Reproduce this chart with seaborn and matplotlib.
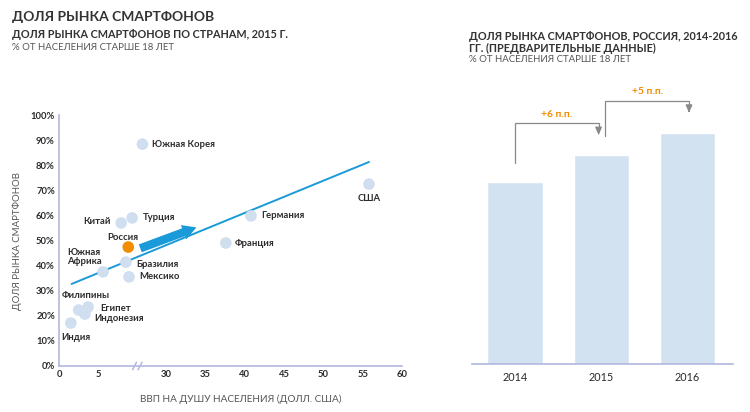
import matplotlib
matplotlib.use("Agg")
import matplotlib.pyplot as plt
from matplotlib.ticker import FuncFormatter
import pandas as pd
import seaborn as sns

# ── Data ─────────────────────────────────────────────────────────────────────
countries = ["Южная Корея", "США", "Германия", "Турция", "Китай", "Россия",
             "Франция", "Бразилия", "Южная\nАфрика", "Мексико", "Филипины",
             "Египет", "Индонезия", "Индия"]
gdp_per_capita = [27.0, 55.8, 40.8, 9.3, 7.9, 8.8, 37.6, 8.5, 5.6, 8.9,
                  2.5, 3.7, 3.3, 1.5]
smartphone_share = [0.884, 0.725, 0.598, 0.59, 0.57, 0.474, 0.49, 0.414,
                    0.375, 0.355, 0.223, 0.235, 0.207, 0.171]
trend_gdp = [1.6, 55.8]
trend_share = [0.327, 0.813]
x_ticks = [0, 5, 30, 35, 40, 45, 50, 55, 60]

years = ["2014", "2015", "2016"]
russia_share = [41, 47, 52]
growth_labels = ["+6 п.п.", "+5 п.п."]

# ── Style ────────────────────────────────────────────────────────────────────
DOT = "#cfdff0"
ORANGE = "#f28c00"
BLUE = "#1a9ad8"
AXIS = "#b3b7de"
DARK = "#2b2b2b"
GREY = "#555555"

sns.set_style("white")
plt.rcParams["font.family"] = ["Lato", "DejaVu Sans"]

# broken x axis: 0..10 kept, values above 25 shifted left
BREAK_SHIFT = 16.4


def to_axis(x):
    return x if x <= 10 else x - BREAK_SHIFT


fig = plt.figure(figsize=(7.5, 4.12), dpi=100)

# ── Left: scatter ────────────────────────────────────────────────────────────
ax = fig.add_axes([0.0787, 0.1117, 0.4573, 0.609])
df = pd.DataFrame({
    "country": countries,
    "gdp": [to_axis(v) for v in gdp_per_capita],
    "share": smartphone_share,
})
df["group"] = ["ru" if c == "Россия" else "other" for c in df["country"]]
sns.scatterplot(data=df, x="gdp", y="share", hue="group",
                palette={"ru": ORANGE, "other": DOT}, s=70, linewidth=0,
                legend=False, ax=ax, zorder=3)
ax.plot([to_axis(v) for v in trend_gdp], trend_share, color=BLUE, lw=1.4,
        zorder=2)
ax.annotate("", xy=(17.8, 0.556), xytext=(10.0, 0.465),
            arrowprops=dict(arrowstyle="simple,head_length=0.9,head_width=1.0,tail_width=0.55",
                            color=BLUE, lw=0, mutation_scale=11), zorder=4)

offsets = {
    "Южная Корея": (10, 0, "left"), "США": (0, -14, "center"),
    "Германия": (10, 0, "left"), "Турция": (11, 0, "left"),
    "Китай": (-10, 1, "right"), "Россия": (-5, 10, "center"),
    "Франция": (9, 0, "left"), "Бразилия": (10, -2, "left"),
    "Южная\nАфрика": (-19, 15, "center"), "Мексико": (10, 0, "left"),
    "Филипины": (7, 15, "center"), "Египет": (12, -1, "left"),
    "Индонезия": (9, -4, "left"), "Индия": (5, -14, "center"),
}
for _, row in df.iterrows():
    dx, dy, ha = offsets[row["country"]]
    ax.annotate(row["country"], (row["gdp"], row["share"]), xytext=(dx, dy),
                textcoords="offset pixels", ha=ha, va="center", fontsize=6.8,
                fontweight="bold", color=DARK, linespacing=0.95)

ax.set_xlim(0, to_axis(60))
ax.set_ylim(0, 1.0)
ax.set_xticks([to_axis(v) for v in x_ticks])
ax.set_xticklabels([str(v) for v in x_ticks])
ax.set_yticks([i / 10 for i in range(11)])
ax.yaxis.set_major_formatter(FuncFormatter(lambda v, _: f"{v:.0%}"))
ax.tick_params(length=0, pad=3, labelsize=6.8, colors=DARK)
for lbl in ax.get_xticklabels() + ax.get_yticklabels():
    lbl.set_fontweight("bold")
sns.despine(ax=ax)
for side in ("left", "bottom"):
    ax.spines[side].set_color(AXIS)
    ax.spines[side].set_linewidth(1.2)
ax.set_xlabel("ВВП НА ДУШУ НАСЕЛЕНИЯ (ДОЛЛ. США)", fontsize=7.2, color=GREY)
ax.set_ylabel("ДОЛЯ РЫНКА СМАРТФОНОВ", fontsize=6.9, color=GREY)
ax.xaxis.set_label_coords(0.53, -0.115)
ax.yaxis.set_label_coords(-0.108, 0.5)

# break marks on the x axis
for bx in (9.6, 10.3):
    ax.plot([bx - 0.25, bx + 0.25], [-0.015, 0.015], color=AXIS, lw=1.1,
            clip_on=False, zorder=5)

# ── Right: bars ──────────────────────────────────────────────────────────────
bx_ax = fig.add_axes([0.6293, 0.1165, 0.348, 0.665])
sns.barplot(x=years, y=russia_share, color="#d3e2f1", width=0.64,
            saturation=1, ax=bx_ax)
bx_ax.set_xlim(-0.5, 2.53)
bx_ax.set_ylim(0, 61.6)
bx_ax.set_yticks([])
bx_ax.tick_params(axis="x", length=0, pad=6, labelsize=7.8, colors=DARK)
sns.despine(ax=bx_ax, left=True)
bx_ax.spines["bottom"].set_color(AXIS)
bx_ax.spines["bottom"].set_linewidth(1.2)

for i, lbl in enumerate(growth_labels):
    x0 = i * 1.05
    x1 = x0 + 0.97
    y0 = russia_share[i] + 4.2
    ytop = russia_share[i + 1] + 7.2
    ytip = russia_share[i + 1] + 4.5
    bx_ax.plot([x0, x0, x1, x1], [y0, ytop, ytop, ytip + 1.0], color="#888888",
               lw=0.9, solid_joinstyle="miter")
    bx_ax.annotate("", xy=(x1, ytip), xytext=(x1, ytip + 1.2),
                   arrowprops=dict(arrowstyle="-|>,head_length=0.45,head_width=0.2",
                                   color="#888888", lw=0.9))
    bx_ax.text((x0 + x1) / 2, ytop + 2.0, lbl, ha="center", va="center",
               fontsize=7.5, fontweight="bold", color=ORANGE)

# ── Titles ───────────────────────────────────────────────────────────────────
fig.text(12 / 750, 1 - 17 / 412, "ДОЛЯ РЫНКА СМАРТФОНОВ", fontsize=10,
         fontweight="bold", color="#333333", va="center")
fig.text(12 / 750, 1 - 35 / 412, "ДОЛЯ РЫНКА СМАРТФОНОВ ПО СТРАНАМ, 2015 Г.",
         fontsize=7.85, fontweight="bold", color="#333333", va="center")
fig.text(12 / 750, 1 - 48 / 412, "% ОТ НАСЕЛЕНИЯ СТАРШЕ 18 ЛЕТ",
         fontsize=6.9, color=GREY, va="center")
fig.text(469 / 750, 1 - 36 / 412, "ДОЛЯ РЫНКА СМАРТФОНОВ, РОССИЯ, 2014-2016",
         fontsize=7.85, fontweight="bold", color="#333333", va="center")
fig.text(469 / 750, 1 - 48 / 412, "ГГ. (ПРЕДВАРИТЕЛЬНЫЕ ДАННЫЕ)",
         fontsize=7.85, fontweight="bold", color="#333333", va="center")
fig.text(469 / 750, 1 - 60 / 412, "% ОТ НАСЕЛЕНИЯ СТАРШЕ 18 ЛЕТ",
         fontsize=6.9, color=GREY, va="center")

fig.savefig("out.png", dpi=100)
